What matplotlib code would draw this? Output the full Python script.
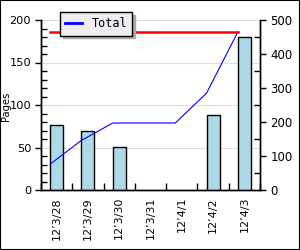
import matplotlib
matplotlib.use("Agg")
import matplotlib.pyplot as plt
from matplotlib.ticker import MultipleLocator
import numpy as np

categories = ["12\u20193/28", "12\u20193/29", "12\u20193/30", "12\u20193/31", "12\u20194/1", "12\u20194/2", "12\u20194/3"]
pages = [76, 70, 51, 0, 0, 88, 180]
total = [76, 146, 197, 197, 197, 285, 465]
max_total = 465

fig = plt.figure(figsize=(3, 2.5), dpi=100)
fig.patch.set_facecolor("white")
ax = fig.add_axes([41/300, 60/250, 219/300, 170/250])
ax2 = ax.twinx()

x = np.arange(len(categories))
bw = 0.415
bars = ax.bar(x, pages, width=bw, color="#add8e6", edgecolor="black", linewidth=1, zorder=3)
for b, v in zip(bars, pages):
    if v == 0:
        b.set_visible(False)
ax.set_xlim(-0.5, len(categories) - 0.5)
ax.set_ylim(0, 200)
ax.yaxis.set_major_locator(MultipleLocator(50))
ax.yaxis.set_minor_locator(MultipleLocator(10))
ax.grid(axis="y", color="#dddddd", linewidth=0.8, zorder=0)
ax.set_axisbelow(True)

off = -bw / 2
ax2.plot(x + off, total, color="blue", linewidth=0.8, zorder=4, label="Total")
ax2.plot([x[0] + off, x[-1] + off], [max_total, max_total], color="red", linewidth=1.8, zorder=4)
ax2.set_ylim(0, 500)
ax2.yaxis.set_major_locator(MultipleLocator(100))
ax2.yaxis.set_minor_locator(MultipleLocator(50))

ax.set_xticks(x)
ax.set_xticklabels(categories, rotation=90, fontsize=8)
ax.set_xticks(np.arange(len(categories) + 1) - 0.5, minor=True)
ax.tick_params(axis="x", which="major", length=0, pad=5)
ax.tick_params(axis="x", which="minor", direction="in", length=5, width=1)
ax.tick_params(axis="y", which="major", direction="out", length=4, width=1, labelsize=8.2, pad=3)
ax.tick_params(axis="y", which="minor", direction="in", length=4, width=1)
ax2.tick_params(axis="y", which="major", direction="out", length=4, width=1, labelsize=8.5)
ax2.tick_params(axis="y", which="minor", direction="in", length=4, width=1)
fig.text(6.5/300, 1 - 106/250, "Pages", rotation=90, fontsize=7.2, ha="center", va="center")

for a in (ax, ax2):
    a.spines["top"].set_visible(False)
    for s in ("left", "right", "bottom"):
        a.spines[s].set_linewidth(1)

leg = ax2.legend(loc="upper left", bbox_to_anchor=(60/300, 238/250), bbox_transform=fig.transFigure,
                 frameon=True, fancybox=False, shadow={"color": "#aaaaaa", "alpha": 1}, prop={"family": "DejaVu Sans Mono", "size": 8.5},
                 handlelength=1.4, borderpad=0.45, borderaxespad=0)
leg.get_frame().set_facecolor("#efedf2")
leg.get_frame().set_edgecolor("black")
leg.get_frame().set_linewidth(1)
leg.get_frame().set_alpha(1)
for line in leg.get_lines():
    line.set_linewidth(2)

fig.add_artist(plt.Rectangle((0, 0), 1, 1, transform=fig.transFigure, fill=False, edgecolor="black", linewidth=1.5))

fig.savefig("out.png", dpi=100, facecolor="white")
